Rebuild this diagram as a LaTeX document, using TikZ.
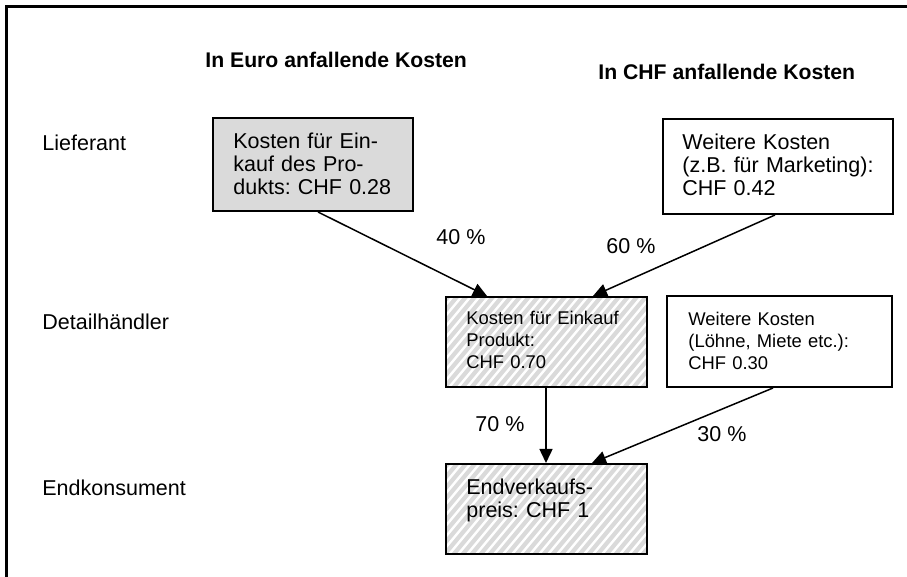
\documentclass[tikz,border=0pt]{standalone}
\usepackage{fontspec}
\setmainfont{Liberation Sans}
\usetikzlibrary{arrows.meta,calc}
\frenchspacing

\definecolor{boxgrey}{RGB}{218,218,218}

\tikzset{
  txt/.style={inner sep=0pt, anchor=base west, align=left,
              font=\fontsize{10.75}{11.5}\selectfont},
  boxtxt/.style={txt, text width=120pt},
  smalltxt/.style={boxtxt, font=\fontsize{9.2}{10.85}\selectfont},
  headtxt/.style={txt, font=\fontsize{10.6}{11.5}\selectfont\bfseries},
  costbox/.style={draw=black, line width=1pt, inner sep=0pt,
                  anchor=north west, rectangle},
  solidgrey/.style={costbox, fill=boxgrey},
  hatched/.style={costbox, fill=boxgrey,
    path picture={
      \foreach \i in {-14,...,26}
        \draw[white, line width=1.2pt]
          ($(path picture bounding box.south west)+(\i*4.5pt,-2pt)$) -- ++(60pt,72pt);
    }},
  arr/.style={line width=0.75pt, -{Triangle[length=7pt,width=6.5pt]}}
}

\begin{document}
\begin{tikzpicture}[x=0.5pt, y=-0.5pt]
  \useasboundingbox (0,0) rectangle (907,577);

  % outer frame (top and left edges)
  \draw[line width=1.5pt] (6.5,577) |- (907,6.5);

  % column headings
  \node[headtxt] (hEuro) at (205,67.5) {In Euro anfallende Kosten};
  \node[headtxt] (hCHF)  at (598,79.5) {In CHF anfallende Kosten};

  % row labels
  \node[txt] (rowL) at (42,151) {Lieferant};
  \node[txt] (rowD) at (42,330) {Detailhändler};
  \node[txt] (rowE) at (42,496) {Endkonsument};

  % boxes
  \node[solidgrey, minimum width=100pt, minimum height=46.5pt] (A) at (212,117) {};
  \node[costbox, minimum width=115pt, minimum height=47.5pt] (B) at (662,118) {};
  \node[hatched, minimum width=100.5pt, minimum height=45pt] (C) at (445,296) {};
  \node[costbox, minimum width=112.5pt, minimum height=45.5pt] (D) at (666,295) {};
  \node[hatched, minimum width=100.5pt, minimum height=45pt] (E) at (445,463) {};

  % box texts
  \node[boxtxt] (At) at (233,149) {Kosten für Ein-\\kauf des Pro-\\dukts: CHF 0.28};
  \node[boxtxt] (Bt) at (682,150) {Weitere Kosten\\(z.B. für Marketing):\\CHF 0.42};
  \node[smalltxt] (Ct) at (466,325) {Kosten für Einkauf\\Produkt:\\CHF 0.70};
  \node[smalltxt] (Dt) at (688,326) {Weitere Kosten\\(Löhne, Miete etc.):\\CHF 0.30};
  \node[boxtxt] (Et) at (466,495) {Endverkaufs-\\preis: CHF 1};

  % connectors
  \draw[arr] ($(A.south west)+(106,0)$) -- ($(C.north west)+(42,0)$);
  \draw[arr] ($(B.south west)+(113,0)$) -- ($(C.north west)+(148,0)$);
  \draw[arr] ($(C.south west)+(101,0)$) -- ($(E.north west)+(101,0)$);
  \draw[arr] ($(D.south west)+(107,0)$) -- ($(E.north west)+(147,0)$);

  % shares
  \node[txt] (p40) at (436,245) {40 \%};
  \node[txt] (p60) at (606,254) {60 \%};
  \node[txt] (p70) at (475,432) {70 \%};
  \node[txt] (p30) at (697,442) {30 \%};
\end{tikzpicture}
\end{document}
